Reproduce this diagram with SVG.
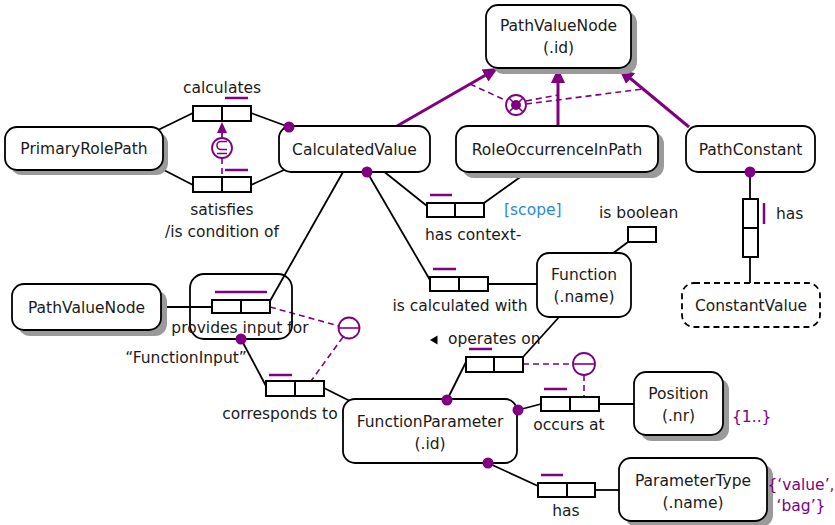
<svg xmlns="http://www.w3.org/2000/svg" width="835" height="525" viewBox="0 0 835 525">
<style>
text{font-family:"DejaVu Sans","Liberation Sans",sans-serif;font-size:15.5px;fill:#1a1a1a}
.m{text-anchor:middle}
.nb{fill:#fff;stroke:#000;stroke-width:1.8}
.sh{fill:#9a9a9a}
.c{stroke:#000;stroke-width:1.8;fill:none}
.rb{fill:#fff;stroke:#000;stroke-width:2}
.uc{stroke:#800080;stroke-width:2.5}
.sub{stroke:#800080;stroke-width:3;fill:none}
.ds{stroke:#800080;stroke-width:1.6;stroke-dasharray:6,4;fill:none}
.dot{fill:#800080}
.cc{fill:#fff;stroke:#800080;stroke-width:1.8}
.pl{fill:#800080}
.bl{fill:#2b8ad6}
</style>
<defs>
<marker id="ah" markerUnits="userSpaceOnUse" markerWidth="16" markerHeight="16" viewBox="0 0 16 16" refX="15" refY="8" orient="auto">
<path d="M0,1 L15,8 L0,15 Z" fill="#800080"/>
</marker>
</defs>

<g id="connectors">
<line class="c" x1="158" y1="130" x2="193" y2="113"/>
<line class="c" x1="158" y1="167" x2="193" y2="185"/>
<line class="c" x1="251" y1="113" x2="289" y2="127"/>
<line class="c" x1="251" y1="185" x2="284" y2="170"/>
<line class="c" x1="382" y1="170" x2="427" y2="206"/>
<line class="c" x1="484" y1="203" x2="530" y2="170"/>
<line class="c" x1="367" y1="172" x2="430" y2="280"/>
<line class="c" x1="488" y1="284" x2="537" y2="284"/>
<line class="c" x1="628" y1="242" x2="612" y2="254"/>
<line class="c" x1="343" y1="172" x2="270" y2="301"/>
<line class="c" x1="161" y1="307" x2="212" y2="307"/>
<line class="c" x1="241" y1="339" x2="266" y2="386"/>
<line class="c" x1="324" y1="388" x2="352" y2="402"/>
<line class="c" x1="466" y1="362" x2="447" y2="400"/>
<line class="c" x1="523" y1="357" x2="560" y2="316"/>
<line class="c" x1="541" y1="404" x2="518" y2="410"/>
<line class="c" x1="599" y1="404" x2="634" y2="404"/>
<line class="c" x1="538" y1="486" x2="488" y2="463"/>
<line class="c" x1="595" y1="490" x2="619" y2="490"/>
<line class="c" x1="750" y1="172" x2="750" y2="199"/>
<line class="c" x1="750" y1="257" x2="750" y2="283"/>
<line class="sub" x1="397" y1="126" x2="498" y2="68" marker-end="url(#ah)"/>
<line class="sub" x1="558" y1="126" x2="558" y2="68" marker-end="url(#ah)"/>
<line class="sub" x1="689" y1="127" x2="619" y2="69" marker-end="url(#ah)"/>
</g>

<g id="constraints">
<line class="ds" x1="470" y1="84" x2="507" y2="101"/>
<line class="ds" x1="526" y1="101" x2="558" y2="95"/>
<line class="ds" x1="526" y1="104" x2="643" y2="89"/>
<circle class="cc" cx="516" cy="105" r="10"/>
<line x1="509" y1="98" x2="523" y2="112" stroke="#800080" stroke-width="1.6"/>
<line x1="523" y1="98" x2="509" y2="112" stroke="#800080" stroke-width="1.6"/>
<circle cx="516" cy="105" r="5" fill="#800080"/>

<line x1="222" y1="138" x2="222" y2="130" stroke="#800080" stroke-width="1.8"/>
<path d="M217,133 L222,122 L227,133 Z" fill="#800080"/>
<line class="ds" x1="222" y1="158" x2="222" y2="177"/>
<circle class="cc" cx="222" cy="148" r="10"/>
<path d="M227,141.5 H221 A4,4 0 0 0 221,149.5 H227 M217,153.5 H227" fill="none" stroke="#800080" stroke-width="1.6"/>

<line class="ds" x1="270" y1="307" x2="339" y2="326"/>
<line class="ds" x1="343" y1="337" x2="311" y2="381"/>
<circle class="cc" cx="349" cy="328" r="10.5"/>
<line x1="338.5" y1="328" x2="359.5" y2="328" stroke="#800080" stroke-width="1.6"/>

<line class="ds" x1="523" y1="364" x2="573" y2="364"/>
<line class="ds" x1="584" y1="375" x2="584" y2="397"/>
<circle class="cc" cx="584" cy="364" r="11"/>
<line x1="573" y1="364" x2="595" y2="364" stroke="#800080" stroke-width="1.6"/>
</g>

<g id="PathValueNode_top">
<rect class="sh" x="492" y="11" width="145" height="63" rx="12"/>
<rect class="nb" x="486" y="5" width="145" height="63" rx="12"/>
<text class="m" x="558.5" y="31">PathValueNode</text>
<text class="m" x="558.5" y="53">(.id)</text>
</g>
<g id="PrimaryRolePath">
<rect class="sh" x="10" y="132" width="158" height="43" rx="12"/>
<rect class="nb" x="5" y="127" width="158" height="43" rx="12"/>
<text class="m" x="84" y="154">PrimaryRolePath</text>
</g>
<g id="CalculatedValue">
<rect class="nb" x="279" y="126" width="151" height="46" rx="12"/>
<text class="m" x="354.5" y="154.5">CalculatedValue</text>
</g>
<g id="RoleOccurrenceInPath">
<rect class="sh" x="462" y="132" width="202" height="46" rx="12"/>
<rect class="nb" x="456" y="126" width="202" height="46" rx="12"/>
<text class="m" x="557" y="154.5">RoleOccurrenceInPath</text>
</g>
<g id="PathConstant">
<rect class="nb" x="686" y="126" width="129" height="46" rx="12"/>
<text class="m" x="750.5" y="154.5">PathConstant</text>
</g>
<g id="ConstantValue">
<rect class="nb" x="682" y="283" width="138" height="44" rx="12" stroke-dasharray="6,4"/>
<text class="m" x="751" y="310.5">ConstantValue</text>
</g>
<g id="PathValueNode_left">
<rect class="sh" x="18" y="290" width="149" height="46" rx="12"/>
<rect class="nb" x="12" y="284" width="149" height="46" rx="12"/>
<text class="m" x="86.5" y="312.5">PathValueNode</text>
</g>
<g id="Function">
<rect class="nb" x="537" y="253" width="94" height="64" rx="12"/>
<text class="m" x="584" y="280">Function</text>
<text class="m" x="584" y="302">(.name)</text>
</g>
<g id="FunctionParameter">
<rect class="nb" x="343" y="399" width="174" height="64" rx="12"/>
<text class="m" x="430" y="427">FunctionParameter</text>
<text class="m" x="430" y="449">(.id)</text>
</g>
<g id="Position">
<rect class="sh" x="640" y="378" width="89" height="63" rx="12"/>
<rect class="nb" x="634" y="372" width="89" height="63" rx="12"/>
<text class="m" x="678.5" y="399">Position</text>
<text class="m" x="678.5" y="421">(.nr)</text>
<text class="pl" x="732" y="422">{1..}</text>
</g>
<g id="ParameterType">
<rect class="sh" x="625" y="464" width="148" height="63" rx="12"/>
<rect class="nb" x="619" y="458" width="148" height="63" rx="12"/>
<text class="m" x="693" y="486">ParameterType</text>
<text class="m" x="693" y="508">(.name)</text>
<text class="pl m" x="801" y="490">{‘value’,</text>
<text class="pl m" x="801" y="511">‘bag’}</text>
</g>

<g id="fact_calculates">
<rect class="rb" x="193" y="106" width="29" height="15"/>
<rect class="rb" x="222" y="106" width="29" height="15"/>
<line class="uc" x1="225" y1="98" x2="248" y2="98"/>
<text class="m" x="222" y="93">calculates</text>
</g>
<g id="fact_satisfies">
<rect class="rb" x="193" y="177" width="29" height="15"/>
<rect class="rb" x="222" y="177" width="29" height="15"/>
<line class="uc" x1="225" y1="170" x2="248" y2="170"/>
<text class="m" x="222" y="215">satisfies</text>
<text class="m" x="222" y="237">/is condition of</text>
</g>
<g id="fact_hascontext">
<rect class="rb" x="427" y="203" width="28" height="14"/>
<rect class="rb" x="455" y="203" width="29" height="14"/>
<line class="uc" x1="430" y1="195" x2="452" y2="195"/>
<text x="425" y="240">has context-</text>
<text class="bl" x="504" y="215">[scope]</text>
</g>
<g id="fact_iscalculatedwith">
<rect class="rb" x="430" y="277" width="29" height="14"/>
<rect class="rb" x="459" y="277" width="29" height="14"/>
<line class="uc" x1="433" y1="269" x2="456" y2="269"/>
<text class="m" x="460" y="311">is calculated with</text>
</g>
<g id="fact_isboolean">
<rect class="rb" x="628" y="227" width="28" height="15"/>
<text x="599" y="218">is boolean</text>
</g>
<g id="fact_providesinput">
<rect x="190" y="274" width="102" height="65" rx="14" fill="none" stroke="#000" stroke-width="1.8"/>
<rect class="rb" x="212" y="300" width="29" height="13"/>
<rect class="rb" x="241" y="300" width="29" height="13"/>
<line class="uc" x1="215" y1="292" x2="267" y2="292"/>
<text class="m" x="240" y="333">provides input for</text>
<text class="m" x="186" y="363">“FunctionInput”</text>
</g>
<g id="fact_correspondsto">
<rect class="rb" x="266" y="381" width="29" height="15"/>
<rect class="rb" x="295" y="381" width="29" height="15"/>
<line class="uc" x1="269" y1="375" x2="292" y2="375"/>
<text class="m" x="280" y="419">corresponds to</text>
</g>
<g id="fact_operateson">
<rect class="rb" x="466" y="357" width="28" height="15"/>
<rect class="rb" x="494" y="357" width="29" height="15"/>
<line class="uc" x1="469" y1="349" x2="492" y2="349"/>
<path d="M430,340 L437.5,335.5 L437.5,344.5 Z" fill="#000"/>
<text x="448" y="344">operates on</text>
</g>
<g id="fact_occursat">
<rect class="rb" x="541" y="397" width="29" height="14"/>
<rect class="rb" x="570" y="397" width="29" height="14"/>
<line class="uc" x1="544" y1="389" x2="567" y2="389"/>
<text class="m" x="569" y="430">occurs at</text>
</g>
<g id="fact_has_type">
<rect class="rb" x="538" y="483" width="29" height="14"/>
<rect class="rb" x="567" y="483" width="28" height="14"/>
<line class="uc" x1="541" y1="475" x2="563" y2="475"/>
<text class="m" x="566" y="516">has</text>
</g>
<g id="fact_has_constant">
<rect class="rb" x="743" y="199" width="15" height="29"/>
<rect class="rb" x="743" y="228" width="15" height="29"/>
<line class="uc" x1="764" y1="203" x2="764" y2="224"/>
<text x="776" y="219">has</text>
</g>

<g id="dots">
<circle class="dot" cx="289" cy="127" r="5.5"/>
<circle class="dot" cx="367" cy="172" r="5.5"/>
<circle class="dot" cx="241" cy="339" r="5.5"/>
<circle class="dot" cx="447" cy="400" r="5.5"/>
<circle class="dot" cx="518" cy="410" r="5.5"/>
<circle class="dot" cx="488" cy="463" r="5.5"/>
<circle class="dot" cx="750" cy="172" r="5.5"/>
</g>
</svg>
